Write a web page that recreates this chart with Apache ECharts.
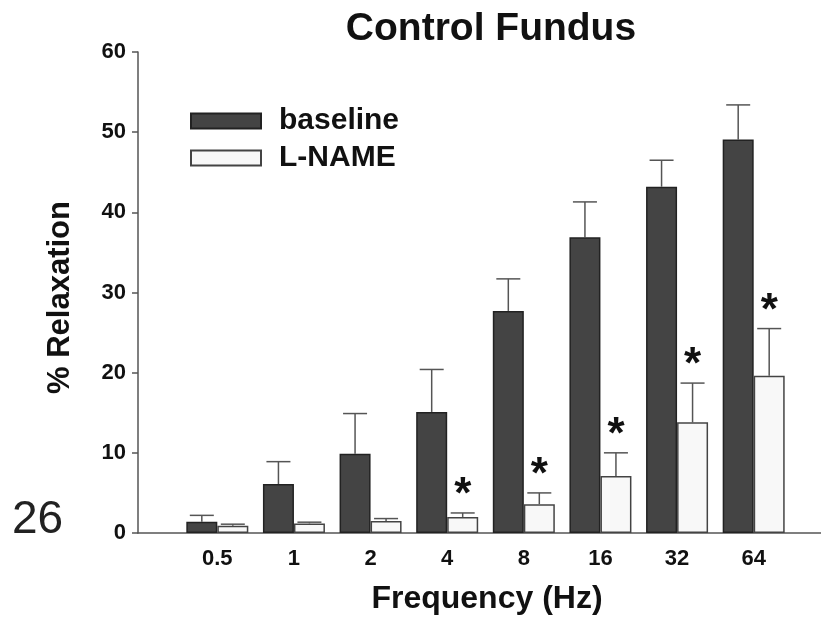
<!DOCTYPE html>
<html>
<head>
<meta charset="utf-8">
<script src="https://cdn.jsdelivr.net/npm/echarts@6/dist/echarts.min.js"></script>
<style>
  html, body { margin: 0; padding: 0; background: #fff; }
  #main { width: 821px; height: 622px; }
</style>
</head>
<body>
<div id="main"></div>
<script>
// data
var categories = ['0.5', '1', '2', '4', '8', '16', '32', '64'];
var baseline = [1.4, 6.1, 9.9, 15.1, 27.7, 36.9, 43.2, 49.1];
var baselineSem = [0.8, 2.8, 5.0, 5.3, 4.0, 4.4, 3.3, 4.3];
var lname = [0.9, 1.2, 1.5, 2.0, 3.6, 7.1, 13.8, 19.6];
var lnameSem = [0.2, 0.15, 0.3, 0.5, 1.4, 2.9, 4.9, 5.9];
var significant = [0, 0, 0, 1, 1, 1, 1, 1];
var yTicks = [0, 10, 20, 30, 40, 50, 60];

var FONT = '"Liberation Sans", Arial, sans-serif';
var BAR_W = 31;

var myChart = echarts.init(document.getElementById('main'));

function errData(vals, sems) {
    return vals.map(function (v, i) {
        return [i, v, v + sems[i], significant[i]];
    });
}

function errRender(offset, star) {
    return function (params, api) {
        var top = api.coord([api.value(0), api.value(2)]);
        var base = api.coord([api.value(0), api.value(1)]);
        var x = top[0] + offset;
        var children = [
            { type: 'line', shape: { x1: x, y1: base[1], x2: x, y2: top[1] },
              style: { stroke: '#555', lineWidth: 1.5 } },
            { type: 'line', shape: { x1: x - 12, y1: top[1], x2: x + 12, y2: top[1] },
              style: { stroke: '#555', lineWidth: 1.5 } }
        ];
        if (star && api.value(3)) {
            children.push({
                type: 'text',
                style: { text: '*', x: x, y: top[1] + 5, align: 'center', verticalAlign: 'bottom',
                         font: 'bold 44px ' + FONT, fill: '#111' }
            });
        }
        return { type: 'group', children: children };
    };
}

option = {
    animation: false,
    title: {
        text: 'Control Fundus',
        left: 486, top: 5, textAlign: 'center',
        textStyle: { fontFamily: FONT, fontSize: 39, fontWeight: 'bold', color: '#111' }
    },
    legend: {
        orient: 'vertical',
        left: 190, top: 106, padding: 0,
        icon: 'rect',
        itemWidth: 70, itemHeight: 15, itemGap: 7,
        data: ['baseline', 'L-NAME'],
        textStyle: { fontFamily: FONT, fontSize: 30, fontWeight: 'bold', color: '#111', padding: [0, 0, 0, 13] }
    },
    graphic: [{
        type: 'text', left: 12, top: 497,
        style: { text: '26', font: '46px ' + FONT, fill: '#222' }
    }],
    grid: [
        { left: 138, right: 0, top: 52, bottom: 89 },
        { left: 179, width: 613, top: 52, bottom: 89 }
    ],
    xAxis: [
        {
            type: 'value', gridIndex: 0, min: 0, max: 1,
            axisLine: { show: true, lineStyle: { color: '#555', width: 1.5 } },
            axisTick: { show: false }, axisLabel: { show: false }, splitLine: { show: false },
            name: 'Frequency (Hz)', nameLocation: 'middle', nameGap: 50,
            nameTextStyle: { fontFamily: FONT, fontSize: 32, fontWeight: 'bold', color: '#111', padding: [0, 0, 0, 15] }
        },
        {
            type: 'category', gridIndex: 1, data: categories,
            axisLine: { show: false }, axisTick: { show: false },
            axisLabel: { fontFamily: FONT, fontSize: 22, fontWeight: 'bold', color: '#111', margin: 15 }
        }
    ],
    yAxis: [
        {
            type: 'value', gridIndex: 0, min: yTicks[0], max: yTicks[yTicks.length - 1], interval: 10,
            axisLine: { show: true, lineStyle: { color: '#555', width: 1.5 } },
            axisTick: { show: true, length: 6, lineStyle: { color: '#555', width: 1.5 } },
            axisLabel: { fontFamily: FONT, fontSize: 22, fontWeight: 'bold', color: '#111', margin: 12 },
            splitLine: { show: false },
            name: '% Relaxation', nameLocation: 'middle', nameGap: 62,
            nameTextStyle: { fontFamily: FONT, fontSize: 31, fontWeight: 'bold', color: '#111', padding: [0, 10, 0, 0] }
        },
        {
            type: 'value', gridIndex: 1, min: 0, max: 60, show: false
        }
    ],
    series: [
        {
            name: 'baseline', type: 'bar', xAxisIndex: 1, yAxisIndex: 1,
            data: baseline, barWidth: BAR_W, barGap: '0%',
            itemStyle: { color: '#444', borderColor: '#222', borderWidth: 1.5 }
        },
        {
            name: 'L-NAME', type: 'bar', xAxisIndex: 1, yAxisIndex: 1,
            data: lname, barWidth: BAR_W, barGap: '0%',
            itemStyle: { color: '#f8f8f8', borderColor: '#444', borderWidth: 1.5 }
        },
        {
            type: 'custom', xAxisIndex: 1, yAxisIndex: 1, z: 1,
            data: errData(baseline, baselineSem),
            encode: { x: 0, y: [1, 2] },
            renderItem: errRender(-BAR_W / 2, false)
        },
        {
            type: 'custom', xAxisIndex: 1, yAxisIndex: 1, z: 1,
            data: errData(lname, lnameSem),
            encode: { x: 0, y: [1, 2] },
            renderItem: errRender(BAR_W / 2, true)
        }
    ]
};

myChart.setOption(option, true);
</script>
</body>
</html>
